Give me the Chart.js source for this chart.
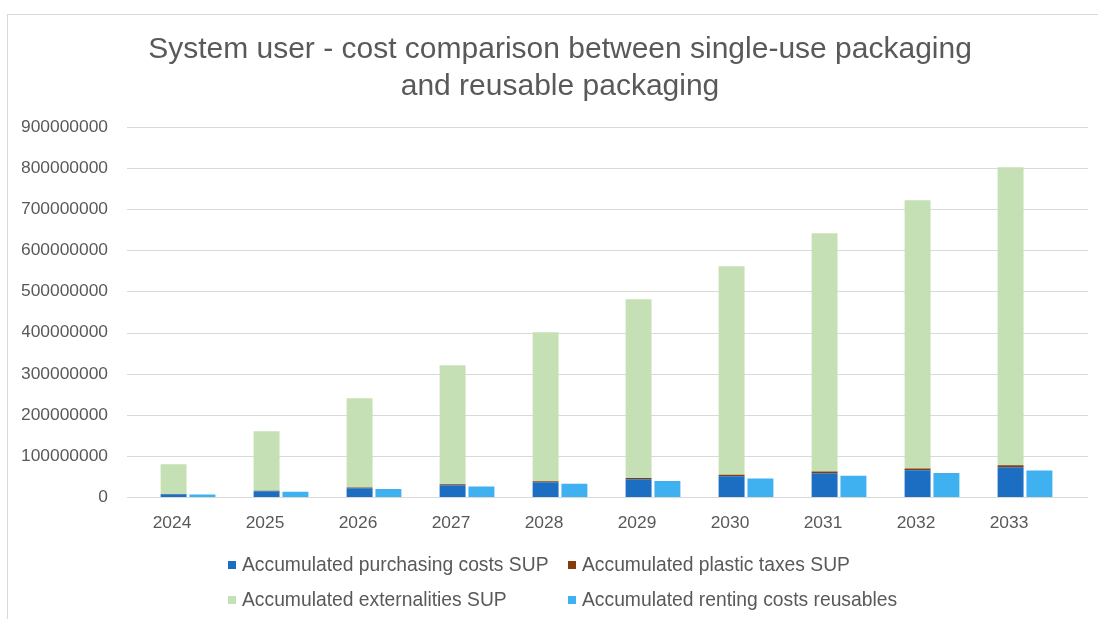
<!DOCTYPE html>
<html>
<head>
<meta charset="utf-8">
<title>System user - cost comparison</title>
<script src="https://cdn.jsdelivr.net/npm/chart.js@4/dist/chart.umd.min.js"></script>
<style>
  html, body { margin: 0; padding: 0; background: #ffffff; }
  #wrap { position: relative; width: 1098px; height: 619px; overflow: hidden;
          font-family: "Liberation Sans", Arial, sans-serif; }
  #frame { position: absolute; left: 7px; top: 14px; right: -5px; bottom: -5px;
           border-top: 1px solid #d9d9d9; border-left: 1px solid #d9d9d9; }
  #chart { position: absolute; left: 0; top: 0; }
  .leg { position: absolute; font-size: 19.3px; line-height: 22px; color: #595959; white-space: nowrap; }
  .leg i { position: absolute; left: -14px; top: 7px; width: 8px; height: 8px; }
</style>
</head>
<body>
<div id="wrap">
  <div id="frame"></div>
  <canvas id="chart" width="1098" height="619"></canvas>
  <div id="legend"></div>
</div>
<script>
// Years on the category axis
const years = ['2024', '2025', '2026', '2027', '2028', '2029', '2030', '2031', '2032', '2033'];

// Single-use packaging (stacked), accumulated, in currency units
const purchasingSUP = [7200000, 14500000, 21800000, 29000000, 36300000, 43500000, 50800000, 58000000, 65300000, 72500000];
const plasticTaxesSUP = [500000, 1000000, 1500000, 2000000, 2500000, 3000000, 3500000, 4000000, 4500000, 5000000];
const externalitiesSUP = [72500000, 144900000, 217300000, 289800000, 362200000, 434700000, 507100000, 579600000, 652000000, 724500000];

// Reusable packaging, accumulated renting costs
const rentingReusables = [6500000, 13000000, 19500000, 26000000, 32500000, 39000000, 45500000, 52000000, 58500000, 65000000];

// Value axis ticks
const yTicks = [0, 100000000, 200000000, 300000000, 400000000, 500000000, 600000000, 700000000, 800000000, 900000000];

const seriesNames = [
  'Accumulated purchasing costs SUP',
  'Accumulated plastic taxes SUP',
  'Accumulated externalities SUP',
  'Accumulated renting costs reusables'
];
const seriesColors = ['#1b6ec2', '#843c0c', '#c5e0b4', '#3fb0f0'];

const FONT = '"Liberation Sans", Arial, sans-serif';
const TEXT = '#595959';
const GRID = '#d9d9d9';

// Horizontal gridlines, a little wider than the bar area
const gridLines = {
  id: 'gridLines',
  beforeDatasetsDraw(chart) {
    const { ctx, chartArea, scales } = chart;
    const y = scales.y;
    ctx.save();
    ctx.strokeStyle = GRID;
    ctx.lineWidth = 1;
    y.ticks.forEach(t => {
      const py = Math.round(y.getPixelForValue(t.value)) + 0.5;
      ctx.beginPath();
      ctx.moveTo(chartArea.left - 14.5, py);
      ctx.lineTo(chartArea.right + 16.5, py);
      ctx.stroke();
    });
    ctx.restore();
  }
};

new Chart(document.getElementById('chart'), {
  type: 'bar',
  data: {
    labels: years,
    datasets: [
      { label: seriesNames[0], data: purchasingSUP, backgroundColor: seriesColors[0], stack: 'sup' },
      { label: seriesNames[1], data: plasticTaxesSUP, backgroundColor: seriesColors[1], stack: 'sup' },
      { label: seriesNames[2], data: externalitiesSUP, backgroundColor: seriesColors[2], stack: 'sup' },
      { label: seriesNames[3], data: rentingReusables, backgroundColor: seriesColors[3], stack: 'reuse' }
    ]
  },
  options: {
    responsive: false,
    animation: false,
    categoryPercentage: 0.62,
    barPercentage: 0.9,
    layout: { padding: { top: 31, left: 22, right: 0, bottom: 69 } },
    plugins: {
      legend: { display: false },
      tooltip: { enabled: false },
      title: {
        display: true,
        text: ['System user - cost comparison between single-use packaging', 'and reusable packaging'],
        color: TEXT,
        font: { family: FONT, size: 30, weight: 'normal', lineHeight: 1.23 },
        padding: { top: 0, bottom: 22.2 }
      }
    },
    scales: {
      x: {
        stacked: true,
        grid: { display: false, drawTicks: false },
        border: { display: false },
        ticks: { color: TEXT, font: { family: FONT, size: 17.4 }, padding: 16, labelOffset: -16, maxRotation: 0 }
      },
      y: {
        stacked: true,
        min: 0,
        max: yTicks[yTicks.length - 1],
        afterBuildTicks: scale => { scale.ticks = yTicks.map(v => ({ value: v })); },
        afterFit: scale => { scale.width = 119.5; },
        grid: { display: false, drawTicks: false },
        border: { display: false },
        ticks: { color: TEXT, font: { family: FONT, size: 17.4 }, padding: 33.5, callback: v => String(v) }
      },
      yRight: {
        position: 'right',
        display: true,
        afterFit: scale => { scale.width = 26.5; },
        grid: { display: false, drawTicks: false },
        border: { display: false },
        ticks: { display: false }
      }
    }
  },
  plugins: [gridLines]
});

// Two-column legend below the plot
const legendPos = [[242, 554], [582, 554], [242, 589], [582, 589]];
const legendEl = document.getElementById('legend');
seriesNames.forEach((name, i) => {
  const d = document.createElement('div');
  d.className = 'leg';
  d.style.left = legendPos[i][0] + 'px';
  d.style.top = legendPos[i][1] + 'px';
  const sw = document.createElement('i');
  sw.style.background = seriesColors[i];
  d.appendChild(sw);
  d.appendChild(document.createTextNode(name));
  legendEl.appendChild(d);
});
</script>
</body>
</html>
